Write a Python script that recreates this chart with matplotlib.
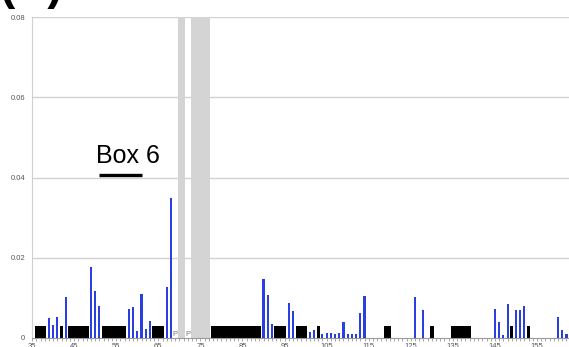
import matplotlib
matplotlib.use("Agg")
import matplotlib.pyplot as plt
from matplotlib.ticker import MultipleLocator, FixedLocator

# Per-residue values (blue bars)
residues = [39, 40, 41, 43, 49, 50, 51, 58, 59, 60, 61, 62, 63, 67, 68,
            90, 91, 92, 96, 97, 101, 102, 104, 105, 106, 107, 108, 109, 110,
            111, 112, 113, 114, 126, 128, 145, 146, 147, 148, 150, 151, 152,
            160, 161, 162]
values = [0.0049, 0.0033, 0.0053, 0.0101, 0.0177, 0.0118, 0.0079, 0.0072,
          0.0077, 0.0018, 0.0109, 0.0023, 0.0043, 0.0128, 0.0348,
          0.0147, 0.0107, 0.0036, 0.0088, 0.0067, 0.0014, 0.0020, 0.0009,
          0.0012, 0.0012, 0.0010, 0.0012, 0.0040, 0.0010,
          0.0009, 0.0011, 0.0062, 0.0104, 0.0102, 0.0069, 0.0072, 0.0039,
          0.0008, 0.0084, 0.0069, 0.0070, 0.0080,
          0.0052, 0.0021, 0.0011]

# Residue ranges without data (black blocks)
block_start = [36, 42, 44, 52, 64, 78, 93, 98, 103, 119, 130, 135, 149, 153]
block_end = [38, 42, 48, 57, 66, 89, 95, 100, 103, 120, 130, 139, 149, 153]
block_height = 0.003

# Excluded regions (grey bands) and proline markers
band_start = [70, 73]
band_end = [71, 77]
proline = [69, 72]

# Box 6 annotation
box6_start, box6_end, box6_level = 51, 61, 0.0405

x_ticks = list(range(35, 160, 10))
y_ticks = [0, 0.02, 0.04, 0.06, 0.08]
y_labels = ["0", "0.02", "0.04", "0.06", "0.08"]

W, H = 569, 347
fig = plt.figure(figsize=(W / 100, H / 100), dpi=100)
fig.patch.set_facecolor("white")
ax = fig.add_axes([32 / W, (H - 338) / H, (W - 32) / W, (338 - 17) / H])
ax.set_xlim(34.97, 162.6)
ax.set_ylim(0, 0.08)

font = "Liberation Sans"

# grid
for y in y_ticks[1:]:
    ax.axhline(y, color="#d2d2d2", lw=1.0, zorder=0)

# grey bands
for s, e in zip(band_start, band_end):
    ax.axvspan(s - 0.35, e + 0.35, color="#d4d4d4", lw=0, zorder=1)

# black blocks
for s, e in zip(block_start, block_end):
    ax.bar(s - 0.4, block_height, width=(e - s) + 0.8, align="edge",
           color="black", lw=0, zorder=2)

# blue bars
ax.bar(residues, values, width=0.5, color="#2a3fe2", lw=0, zorder=3)

# proline markers
for p in proline:
    ax.text(p, 0.0004, "P", ha="center", va="baseline", fontsize=5.5,
            color="#777777", family=font, zorder=4)

# Box 6 label
ax.plot([box6_start, box6_end], [box6_level, box6_level], color="black",
        lw=2.4, solid_capstyle="butt", zorder=5)
ax.text(57.8, 0.0437, "Box 6", ha="center", va="baseline", fontsize=18,
        family=font, color="black", zorder=5)

# axes styling
for side in ("top", "right"):
    ax.spines[side].set_visible(False)
ax.spines["left"].set_color("#cfcfcf")
ax.spines["bottom"].set_color("#9a9a9a")
ax.spines["bottom"].set_linewidth(0.8)

ax.set_yticks(y_ticks)
ax.set_yticklabels(y_labels, fontsize=5.5, color="#555555", family=font)
ax.tick_params(axis="y", length=0, pad=5)

ax.xaxis.set_major_locator(FixedLocator(x_ticks))
ax.xaxis.set_minor_locator(MultipleLocator(1))
ax.set_xticklabels([str(t) for t in x_ticks], fontsize=5.5, color="#555555",
                   family=font)
ax.tick_params(axis="x", which="both", length=2.5, width=0.6,
               color="#9a9a9a", pad=1.0, direction="out")

# panel label at the very top
fig.text(0.0, 1.0 + 1 / H, "(B)", fontsize=33, fontweight="bold",
         family=font, ha="left", va="baseline", color="black")

fig.savefig("out.png", dpi=100)
